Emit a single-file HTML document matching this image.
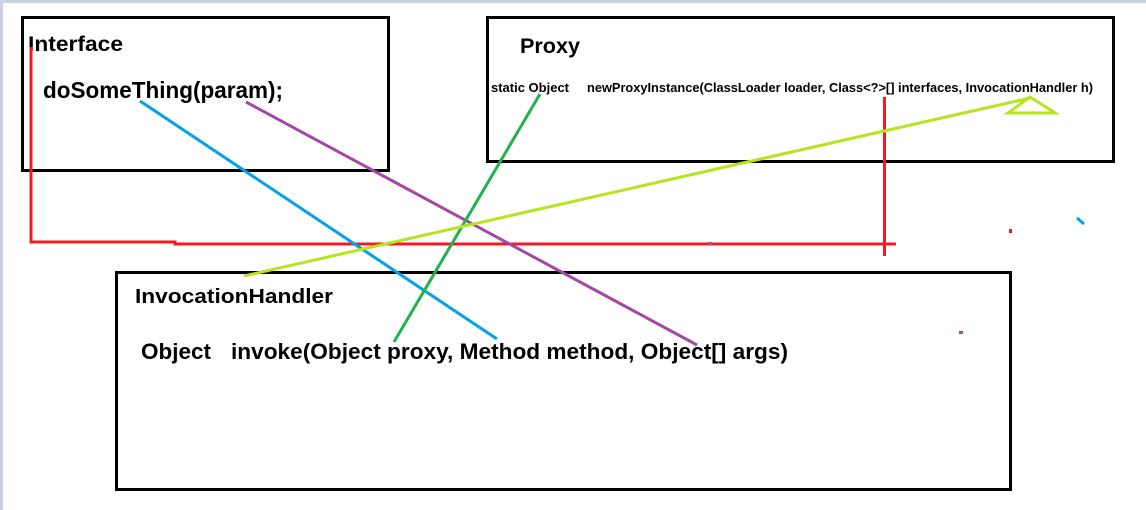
<!DOCTYPE html>
<html><head><meta charset="utf-8"><style>
html,body{margin:0;padding:0;background:#fff;}
svg{display:block;}
text{font-family:"Liberation Sans",sans-serif;font-weight:bold;fill:#000;}
</style></head><body>
<svg width="1146" height="510" viewBox="0 0 1146 510">
<rect x="0" y="0" width="1146" height="510" fill="#fff"/>
<rect x="0" y="0" width="1146" height="3" fill="#c8d2e2"/>
<rect x="0" y="0" width="3" height="510" fill="#c8d2e2"/>
<rect x="22.5" y="17.5" width="366" height="153" fill="none" stroke="#000" stroke-width="3"/>
<rect x="487.5" y="17.5" width="626" height="144" fill="none" stroke="#000" stroke-width="3"/>
<rect x="116.5" y="272.5" width="894" height="217" fill="none" stroke="#000" stroke-width="3"/>
<text x="28" y="51" font-size="21" textLength="95" lengthAdjust="spacingAndGlyphs">Interface</text>
<text x="43" y="98" font-size="23" textLength="240" lengthAdjust="spacingAndGlyphs">doSomeThing(param);</text>
<text x="520" y="53" font-size="21" textLength="60" lengthAdjust="spacingAndGlyphs">Proxy</text>
<text x="491" y="92" font-size="13" textLength="78" lengthAdjust="spacingAndGlyphs">static Object</text>
<text x="587" y="92" font-size="13" textLength="506" lengthAdjust="spacingAndGlyphs">newProxyInstance(ClassLoader loader, Class&lt;?&gt;[] interfaces, InvocationHandler h)</text>
<text x="135" y="303" font-size="20" textLength="198" lengthAdjust="spacingAndGlyphs">InvocationHandler</text>
<text x="141" y="359" font-size="22" textLength="70" lengthAdjust="spacingAndGlyphs">Object</text>
<text x="231" y="359" font-size="22" textLength="557" lengthAdjust="spacingAndGlyphs">invoke(Object proxy, Method method, Object[] args)</text>
<polyline points="31,47 31,242 175,242 175,244 896,244" fill="none" stroke="#ed1c24" stroke-width="3"/>
<line x1="884.5" y1="97" x2="884.5" y2="256" stroke="#ed1c24" stroke-width="3"/>
<rect x="1009" y="229" width="3" height="4" fill="#ed1c24"/>
<line x1="140" y1="101" x2="497" y2="339" stroke="#00a2e8" stroke-width="3"/>
<line x1="1077" y1="218" x2="1084" y2="224" stroke="#00a2e8" stroke-width="3"/>
<line x1="246" y1="102" x2="697" y2="345" stroke="#a349a4" stroke-width="3"/>
<rect x="708" y="242" width="4" height="3" fill="#a349a4"/>
<rect x="959" y="331" width="4" height="3" fill="#a349a4"/>
<line x1="540" y1="94" x2="394" y2="342" stroke="#22b14c" stroke-width="3"/>
<line x1="244" y1="276" x2="1030" y2="98" stroke="#b5e61d" stroke-width="3"/>
<polygon points="1030,97 1008,113 1055,113" fill="none" stroke="#b5e61d" stroke-width="3"/>
</svg>
</body></html>
